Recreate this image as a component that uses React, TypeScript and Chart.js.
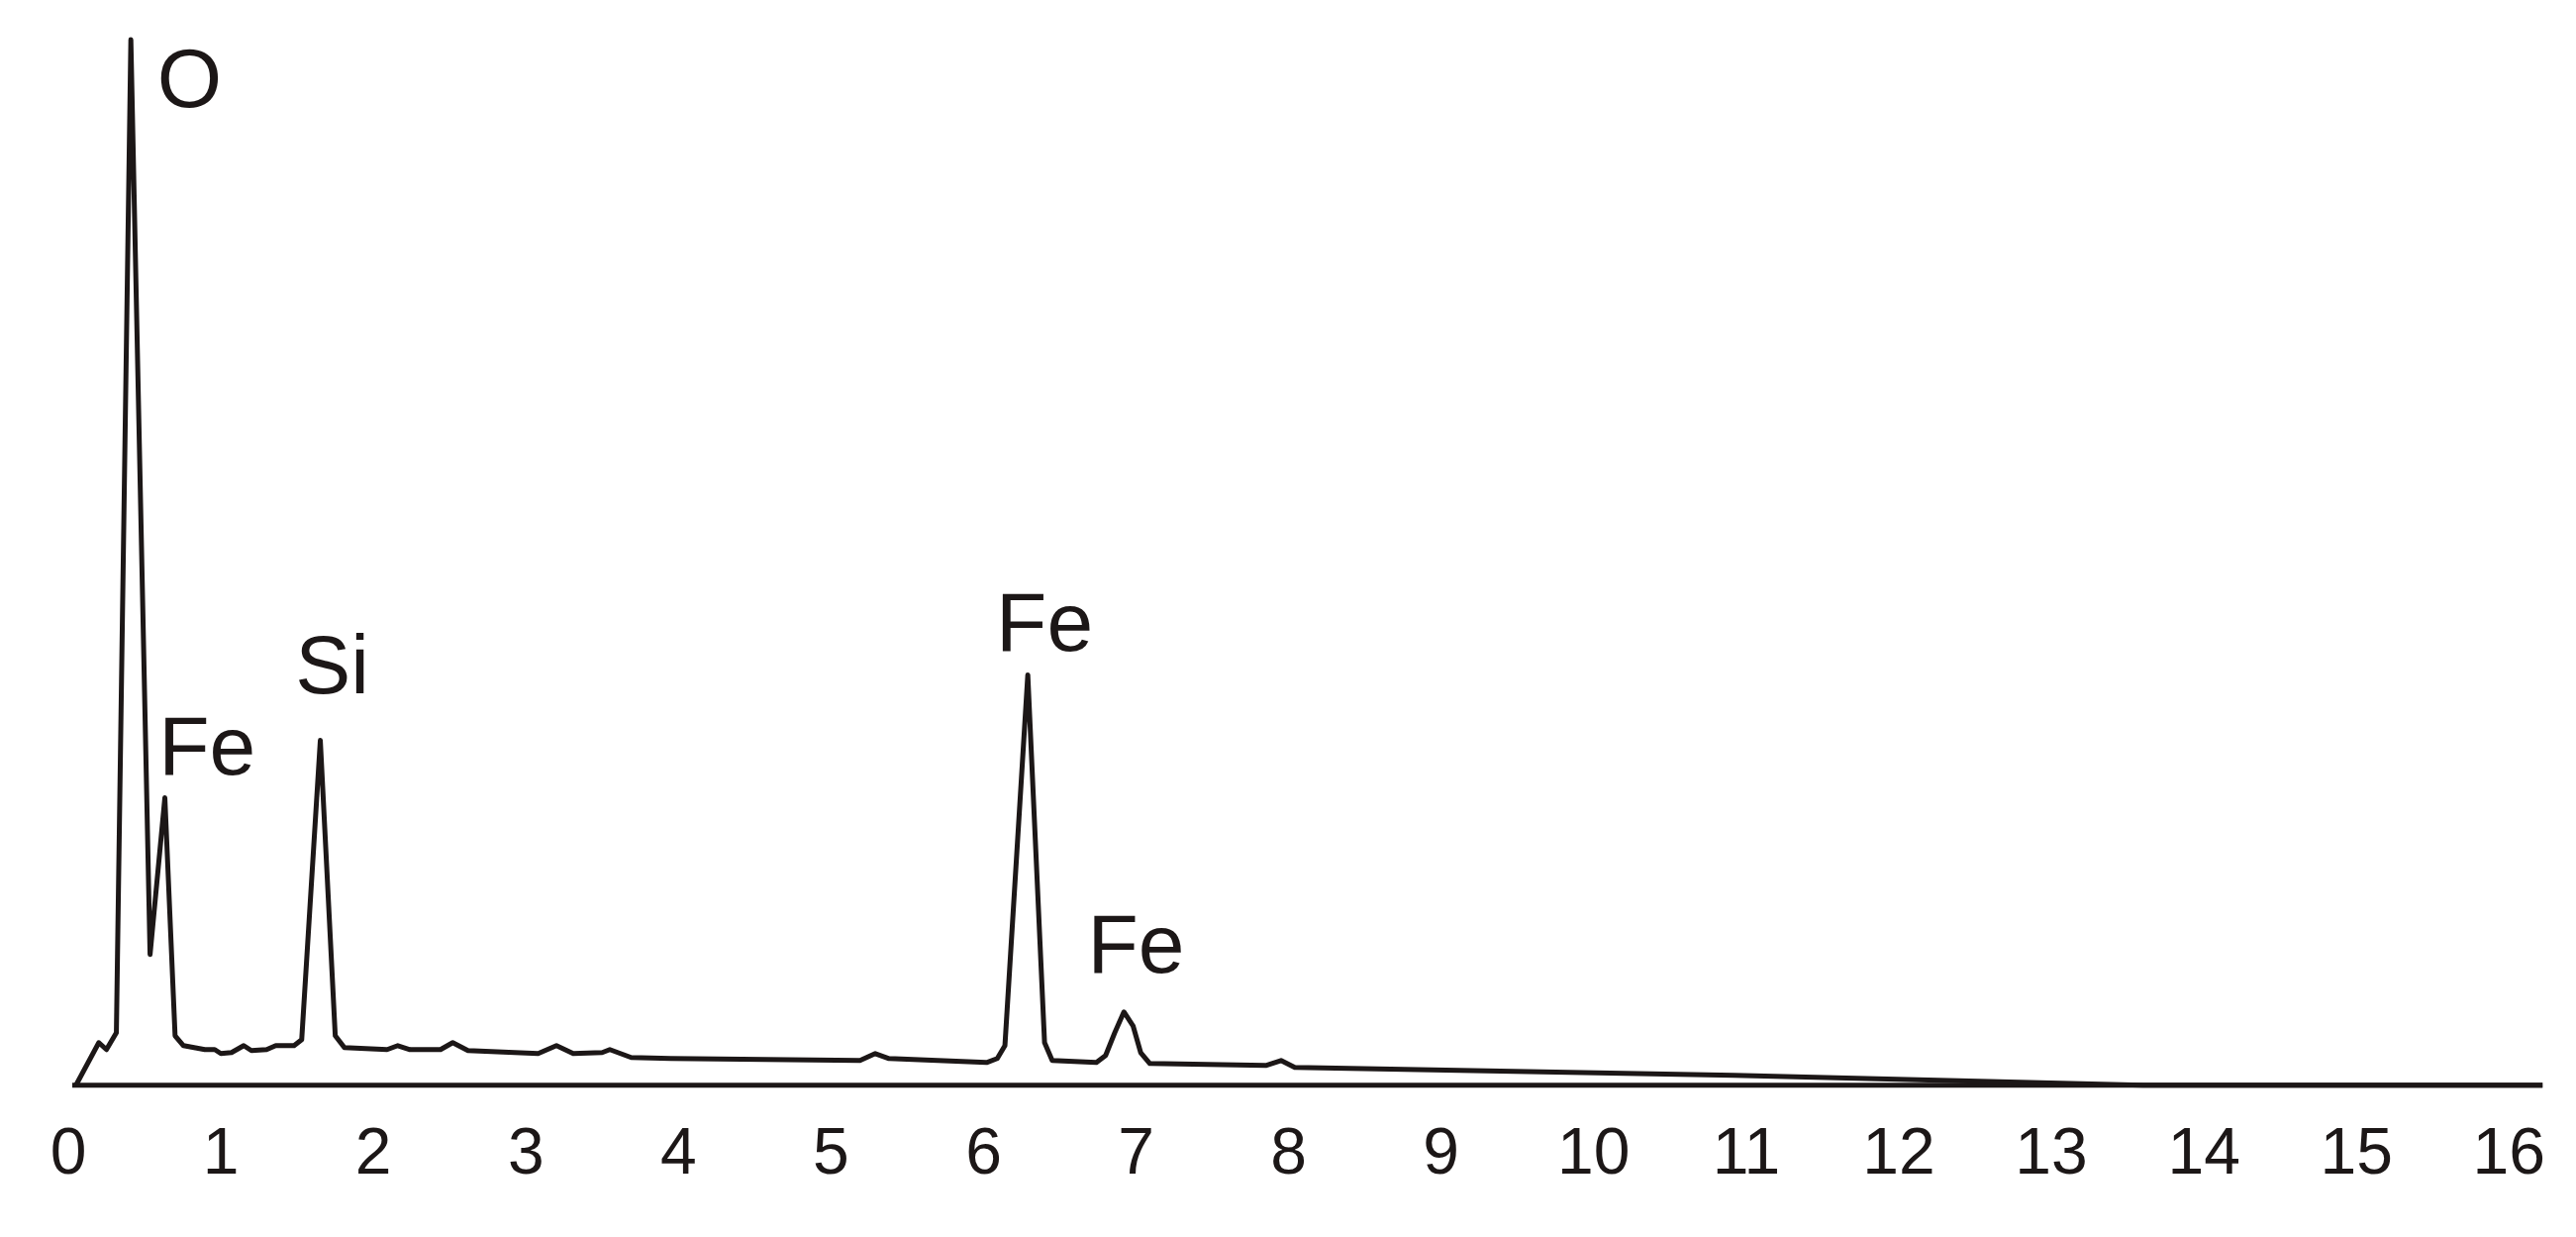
import React, { useEffect, useRef } from "react";
import { Chart, registerables } from "chart.js";

Chart.register(...registerables);

// Energy (keV) and intensity (arbitrary counts) of the EDS spectrum
const energy = [
  0.05, 0.2, 0.25, 0.315, 0.41, 0.536, 0.633, 0.7, 0.755, 0.895, 0.96, 1.0, 1.07,
  1.15, 1.2, 1.3, 1.36, 1.48, 1.53, 1.652, 1.75, 1.81, 2.09, 2.16, 2.24, 2.44,
  2.52, 2.62, 3.08, 3.2, 3.31, 3.5, 3.55, 3.69, 3.95, 5.19, 5.29, 5.38, 6.02,
  6.09, 6.14, 6.29, 6.4, 6.45, 6.74, 6.8, 6.86, 6.92, 6.98, 7.03, 7.09, 7.85,
  7.95, 8.04, 10.92, 13.6, 16.22,
];
const counts = [
  0, 43, 36, 53, 1055, 132, 290, 50, 40, 36, 36, 32, 33,
  40, 35, 36, 40, 40, 46, 348, 50, 38, 36, 40, 36, 36,
  43, 35, 32, 40, 32, 33, 36, 28, 27, 25, 32, 27, 23,
  27, 40, 414, 43, 25, 23, 30, 53, 74, 60, 33, 22, 20,
  25, 18, 10, 0, 0,
];

// Axis baseline drawn as a line
const baselineEnergy = [0.026, 16.22];
const baselineCounts = [0, 0];

// Tick labels
const tickValues = [0, 1, 2, 3, 4, 5, 6, 7, 8, 9, 10, 11, 12, 13, 14, 15, 16];

// Peak labels
const peakLabels = ["O", "Fe", "Si", "Fe", "Fe"];
const peakLabelEnergy = [0.795, 0.91, 1.73, 6.4, 7.0];
const peakLabelCounts = [1010, 337, 419, 462, 137];

const INK = "#1c1717";
const FONT = "'Liberation Sans', Arial, Helvetica, sans-serif";

const peakLabelPlugin = {
  id: "peakLabels",
  afterDatasetsDraw(chart: any) {
    const { ctx, scales } = chart;
    ctx.save();
    ctx.fillStyle = INK;
    ctx.font = `84px ${FONT}`;
    ctx.textAlign = "center";
    ctx.textBaseline = "middle";
    peakLabels.forEach((t, i) => {
      const px = scales.x.getPixelForValue(peakLabelEnergy[i]);
      const py = scales.y.getPixelForValue(peakLabelCounts[i]);
      ctx.fillText(t, px, py);
    });
    ctx.restore();
  },
};

export default function App() {
  const ref = useRef<HTMLCanvasElement | null>(null);

  useEffect(() => {
    if (!ref.current) return;
    const spectrum = energy.map((e, i) => ({ x: e, y: counts[i] }));
    const baseline = baselineEnergy.map((e, i) => ({ x: e, y: baselineCounts[i] }));
    const chart = new Chart(ref.current, {
      type: "line",
      data: {
        datasets: [
          {
            label: "spectrum",
            data: spectrum,
            borderColor: INK,
            borderWidth: 5,
            pointRadius: 0,
            tension: 0,
            fill: false,
            clip: false as any,
            borderJoinStyle: "round",
          },
          {
            label: "baseline",
            data: baseline,
            borderColor: INK,
            borderWidth: 5,
            pointRadius: 0,
            tension: 0,
            fill: false,
            clip: false as any,
          },
        ],
      },
      options: {
        animation: false,
        responsive: false,
        devicePixelRatio: 1,
        layout: { padding: { left: 69, right: 47, top: 40, bottom: 12 } },
        plugins: {
          legend: { display: false },
          tooltip: { enabled: false },
        },
        scales: {
          x: {
            type: "linear",
            min: 0,
            max: 16,
            grid: { display: false, drawTicks: false },
            border: { display: false },
            afterBuildTicks: (axis: any) => {
              axis.ticks = tickValues.map((v) => ({ value: v }));
            },
            ticks: {
              color: INK,
              padding: 31,
              font: { family: FONT, size: 66 },
              autoSkip: false,
              maxRotation: 0,
              callback: (v: any) => String(v),
            },
          },
          y: {
            type: "linear",
            min: 0,
            max: 1055,
            display: false,
          },
        },
      },
      plugins: [peakLabelPlugin],
    });
    return () => chart.destroy();
  }, []);

  return (
    <div style={{ position: "absolute", left: 0, top: 0, width: 2602, height: 1249, background: "#fff" }}>
      <canvas ref={ref} width={2602} height={1249} style={{ width: 2602, height: 1249, display: "block" }} />
    </div>
  );
}
